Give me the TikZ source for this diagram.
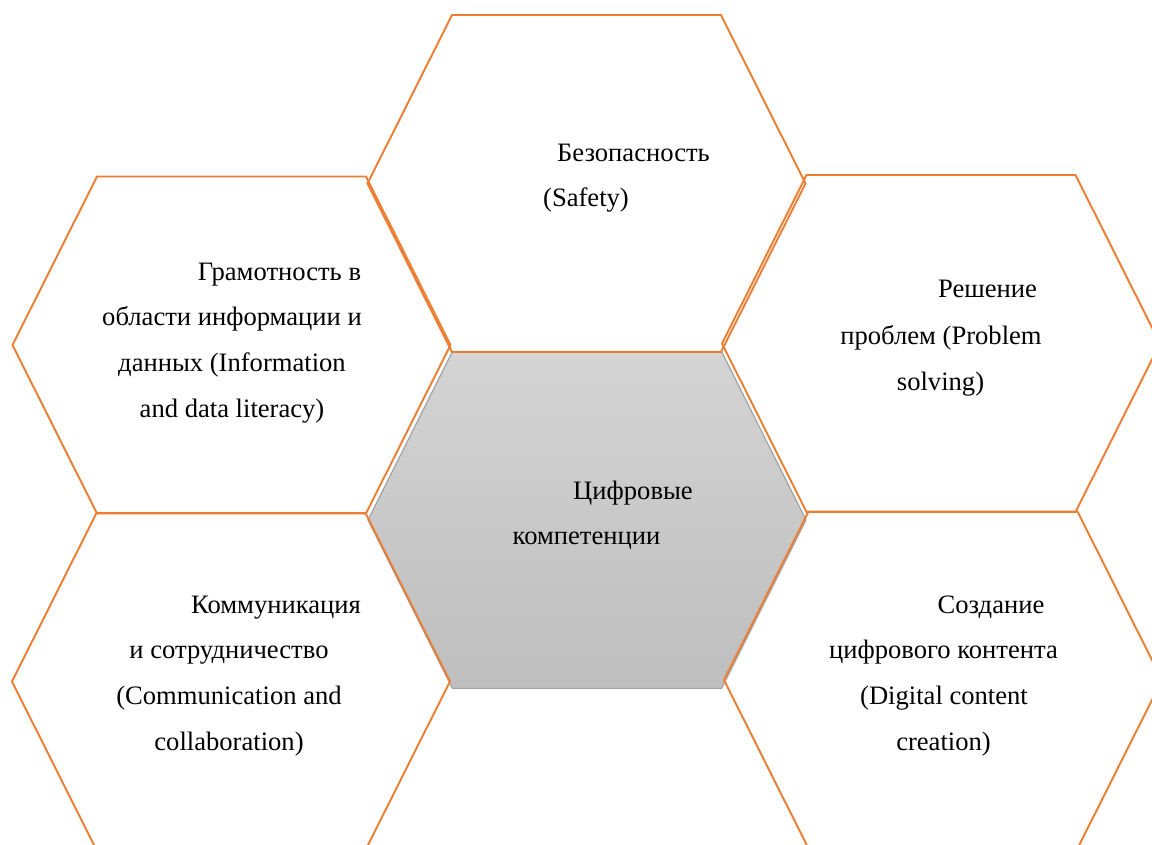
\documentclass[tikz,border=0pt]{standalone}
\usepackage{fontspec}
\setmainfont{Liberation Serif}
\definecolor{hexorange}{HTML}{ED7D31}
\definecolor{hexgray}{HTML}{A6A6A6}
\definecolor{shadetop}{HTML}{D4D4D4}
\definecolor{shadebot}{HTML}{BEBEBE}
\tikzset{
  hexat/.style 2 args={insert path={({#1-219},{#2}) -- ({#1-134.5},{#2-168.5}) -- ({#1+134.5},{#2-168.5}) -- ({#1+219},{#2}) -- ({#1+134.5},{#2+168.5}) -- ({#1-134.5},{#2+168.5}) -- cycle}},
  orangehex/.style={draw=hexorange, line width=1.9pt, line join=miter},
  centerhex/.style={draw=hexgray, line width=1.3pt, top color=shadetop, bottom color=shadebot},
  label/.style={anchor=base, inner sep=0pt, font=\fontsize{26.6}{46}\selectfont, text=black}
}
\begin{document}
\begin{tikzpicture}[x=1pt, y=-1pt]
\useasboundingbox (0,0) rectangle (1152,845);
\clip (0,0) rectangle (1152,845);
\fill[white] (0,0) rectangle (1152,845);
% centre hexagon
\path[centerhex, hexat={587}{520}];
% surrounding hexagons
\path[orangehex, hexat={586.5}{183.5}];
\path[orangehex, hexat={231.5}{345}];
\path[orangehex, hexat={941}{343.5}];
\path[orangehex, hexat={231}{681.5}];
\path[orangehex, hexat={943}{680}];
% texts
\node[label] (s1) at (633.5,162) {Безопасность};
\node[label] (s2) at (586,207) {(Safety)};
\node[label] (i1) at (279.5,280) {Грамотность в};
\node[label] (i2) at (232,325) {области информации и};
\node[label] (i3) at (232,371) {данных (Information};
\node[label] (i4) at (232,417) {and data literacy)};
\node[label] (c1) at (633,499) {Цифровые};
\node[label] (c2) at (586.5,544) {компетенции};
\node[label] (p1) at (987.5,298) {Решение};
\node[label] (p2) at (941,344) {проблем (Problem};
\node[label] (p3) at (940.5,390) {solving)};
\node[label] (k1) at (276,613) {Коммуникация};
\node[label] (k2) at (229,658) {и сотрудничество};
\node[label] (k3) at (229,704) {(Communication and};
\node[label] (k4) at (229,750) {collaboration)};
\node[label] (d1) at (991,613) {Создание};
\node[label] (d2) at (943.5,658) {цифрового контента};
\node[label] (d3) at (944,704) {(Digital content};
\node[label] (d4) at (943.5,750) {creation)};
\end{tikzpicture}
\end{document}
